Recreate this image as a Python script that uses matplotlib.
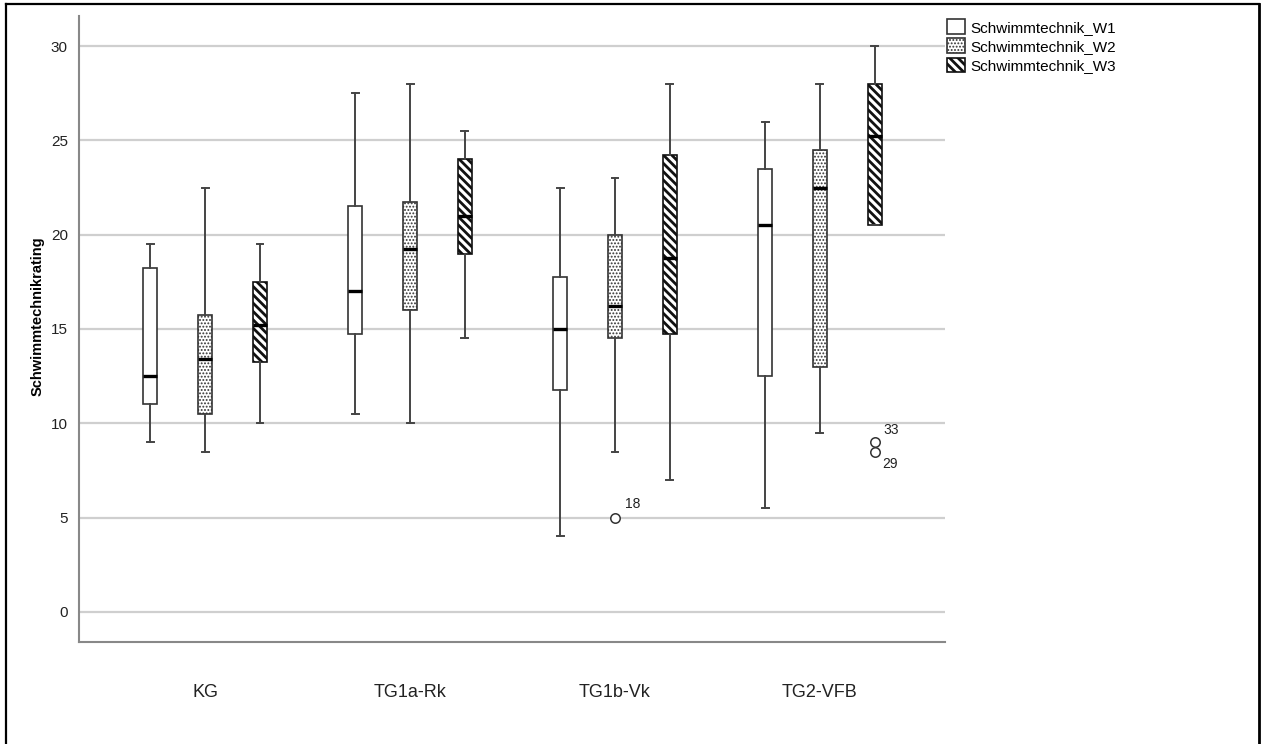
import matplotlib
matplotlib.use("Agg")
import matplotlib.pyplot as plt
from matplotlib.patches import Patch
from matplotlib.lines import Line2D

plt.rcParams['font.family'] = ['Liberation Sans', 'DejaVu Sans']

groups = ["KG", "TG1a-Rk", "TG1b-Vk", "TG2-VFB"]
series = ["Schwimmtechnik_W1", "Schwimmtechnik_W2", "Schwimmtechnik_W3"]

# five-number summaries per series, one value per group
w1_low = [9.0, 10.5, 4.0, 5.5]
w1_q1 = [11.0, 14.75, 11.75, 12.5]
w1_med = [12.5, 17.0, 15.0, 20.5]
w1_q3 = [18.25, 21.5, 17.75, 23.5]
w1_high = [19.5, 27.5, 22.5, 26.0]

w2_low = [8.5, 10.0, 8.5, 9.5]
w2_q1 = [10.5, 16.0, 14.5, 13.0]
w2_med = [13.4, 19.25, 16.2, 22.5]
w2_q3 = [15.75, 21.75, 20.0, 24.5]
w2_high = [22.5, 28.0, 23.0, 28.0]

w3_low = [10.0, 14.5, 7.0, 20.5]
w3_q1 = [13.25, 19.0, 14.75, 20.5]
w3_med = [15.2, 21.0, 18.75, 25.25]
w3_q3 = [17.5, 24.0, 24.25, 28.0]
w3_high = [19.5, 25.5, 28.0, 30.0]

# outliers: (series index, group index, value, case label)
outlier_series = [1, 2, 2]
outlier_group = [2, 3, 3]
outlier_values = [5.0, 9.0, 8.5]
outlier_labels = ["18", "33", "29"]

y_ticks = [0, 5, 10, 15, 20, 25, 30]

summaries = [
    (w1_low, w1_q1, w1_med, w1_q3, w1_high),
    (w2_low, w2_q1, w2_med, w2_q3, w2_high),
    (w3_low, w3_q1, w3_med, w3_q3, w3_high),
]
hatches = [None, '.....', '\\\\\\\\']
hatch_widths = [1.0, 0.9, 2.0]
edges = ['#333333', '#333333', '#111111']
offsets = [-0.268, 0.0, 0.268]
box_w = 0.068

fig = plt.figure(figsize=(12.62, 7.44), dpi=100)
ax = fig.add_axes([79 / 1262, 1 - 642 / 744, 866 / 1262, 626 / 744])

for s, (lo, q1, med, q3, hi) in enumerate(summaries):
    stats = []
    for g in range(len(groups)):
        fl = [v for si, gi, v in zip(outlier_series, outlier_group, outlier_values)
              if si == s and gi == g]
        stats.append(dict(whislo=lo[g], q1=q1[g], med=med[g], q3=q3[g],
                          whishi=hi[g], fliers=fl))
    pos = [g + offsets[s] for g in range(len(groups))]
    with plt.rc_context({'hatch.linewidth': hatch_widths[s]}):
        res = ax.bxp(stats, positions=pos, widths=box_w, capwidths=0.034,
                     patch_artist=True, manage_ticks=False,
                     boxprops=dict(facecolor='white', edgecolor=edges[s], linewidth=1.2),
                     medianprops=dict(color='black', linewidth=2.4),
                     whiskerprops=dict(color='#444444', linewidth=1.4),
                     capprops=dict(color='#444444', linewidth=1.4),
                     flierprops=dict(marker='o', markerfacecolor='white',
                                     markeredgecolor='#333333', markersize=6.8,
                                     markeredgewidth=1.1))
    for b in res['boxes']:
        if hatches[s]:
            b.set_hatch(hatches[s])
            if hasattr(b, 'set_hatch_linewidth'):
                b.set_hatch_linewidth(hatch_widths[s])
        b.set_zorder(3)
    for key in ('medians', 'whiskers', 'caps', 'fliers'):
        for ln in res[key]:
            ln.set_zorder(4)

# case labels next to outliers
label_offsets = {"18": (7, 5), "33": (6, 4), "29": (5, -14)}
for si, gi, v, lab in zip(outlier_series, outlier_group, outlier_values, outlier_labels):
    dx, dy = label_offsets[lab]
    ax.annotate(lab, (gi + offsets[si], v), xytext=(dx, dy), textcoords='offset points',
                fontsize=10, color='#222222', va='bottom', ha='left')

ax.set_xlim(-0.615, 3.61)
ax.set_ylim(-1.6, 31.6)
ax.set_yticks(y_ticks)
ax.set_xticks(range(len(groups)))
ax.set_xticklabels(groups)
ax.tick_params(axis='y', length=0, pad=8, labelsize=11, labelcolor='#222222')
ax.tick_params(axis='x', length=0, pad=30, labelsize=13, labelcolor='#222222')
ax.yaxis.grid(True, color='#cfcfcf', linewidth=1.6)
ax.set_axisbelow(True)
for side in ('top', 'right'):
    ax.spines[side].set_visible(False)
for side in ('left', 'bottom'):
    ax.spines[side].set_color('#888888')
    ax.spines[side].set_linewidth(1.5)
ax.set_ylabel("Schwimmtechnikrating", fontsize=10.5, fontweight='bold')
ax.yaxis.set_label_coords(-0.040, (642 - 316) / 626)

# legend outside the plot area, top right
handles = []
for s in range(3):
    h = Patch(facecolor='white', edgecolor=edges[s], linewidth=1.2,
              hatch=hatches[s] if hatches[s] else None)
    handles.append(h)
leg = fig.legend(handles, series, loc='upper left',
                 bbox_to_anchor=(947 / 1262, 1 - 19 / 744), frameon=False,
                 fontsize=11, handlelength=1.15, handleheight=1.1,
                 handletextpad=0.35, labelspacing=0.25, borderpad=0.0,
                 borderaxespad=0.0)
for h, hw in zip(leg.legend_handles, hatch_widths):
    if hasattr(h, 'set_hatch_linewidth'):
        h.set_hatch_linewidth(hw)

# outer frame of the chart
fig.add_artist(Line2D([6 / 1262, 6 / 1262], [0, 1 - 4 / 744], color='black',
                      linewidth=1.6, transform=fig.transFigure))
fig.add_artist(Line2D([6 / 1262, 1259 / 1262], [1 - 4 / 744, 1 - 4 / 744], color='black',
                      linewidth=1.6, transform=fig.transFigure))
fig.add_artist(Line2D([1259 / 1262, 1259 / 1262], [0, 1 - 4 / 744], color='black',
                      linewidth=2.0, transform=fig.transFigure))

fig.savefig("out.png", dpi=100)
